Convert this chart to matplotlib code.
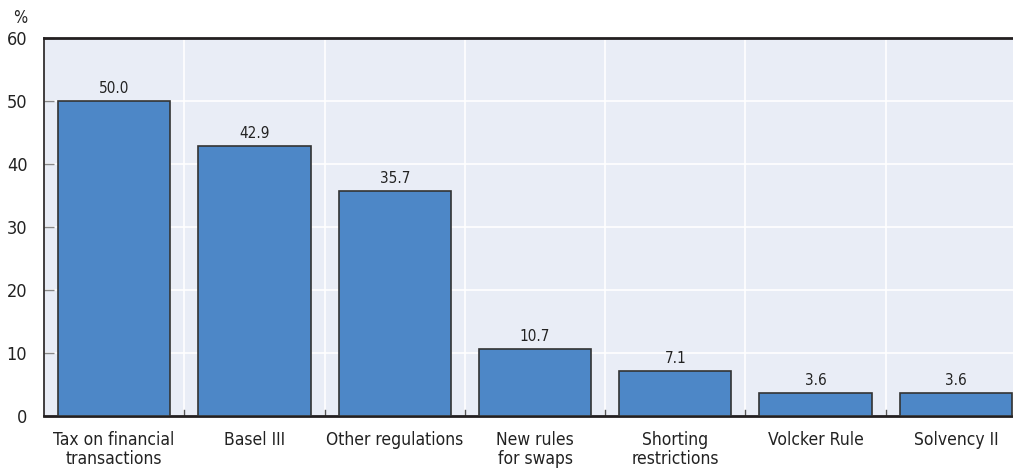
import numpy as np
import matplotlib
matplotlib.use('Agg')
import matplotlib.pyplot as plt

categories = ['Tax on financial\ntransactions', 'Basel III', 'Other regulations',
              'New rules\nfor swaps', 'Shorting\nrestrictions', 'Volcker Rule', 'Solvency II']
values = [50.0, 42.9, 35.7, 10.7, 7.1, 3.6, 3.6]
yticks = [0, 10, 20, 30, 40, 50, 60]

plt.rcParams['font.family'] = ['DejaVu Sans']
plt.rcParams['font.stretch'] = 'condensed'

W, H = 1013, 469
fig = plt.figure(figsize=(W / 100, H / 100), dpi=100)
# axes spans slightly past the right edge, like the original
ax = fig.add_axes([44 / W, (H - 416) / H, (1026 - 44) / W, 378 / H])
ax.set_facecolor('#E9EDF6')

x = np.arange(len(categories))
bars = ax.bar(x, values, width=0.8, color='#4D87C7', edgecolor='#333333', linewidth=1.2, zorder=3)
for xi, v in zip(x, values):
    ax.text(xi, v + 0.8, f'{v:.1f}', ha='center', va='bottom', fontsize=11, color='#222222', zorder=4)

ax.set_xlim(-0.5, len(categories) - 0.5)
ax.set_ylim(0, 60)
ax.set_yticks(yticks)
ax.set_yticklabels([str(t) for t in yticks], fontsize=13, color='#222222')
ax.set_xticks(x)
ax.set_xticklabels(categories, fontsize=12.5, color='#222222', linespacing=1.05)
ax.tick_params(axis='x', length=0, pad=11)
ax.tick_params(axis='y', direction='in', length=7, color='#888888', width=1, pad=12)

# white grid: horizontal at ticks, vertical between categories
for t in yticks[1:-1]:
    ax.axhline(t, color='white', lw=1.2, zorder=1)
for b in x[:-1] + 0.5:
    ax.axvline(b, color='white', lw=1.2, zorder=1)
    ax.plot([b, b], [0, 1.0], color='#555555', lw=1, zorder=2)

ax.spines['right'].set_visible(False)
for s in ['top', 'bottom', 'left']:
    ax.spines[s].set_color('#231F20')
    ax.spines[s].set_linewidth(2)
ax.spines['left'].set_linewidth(1.2)

fig.text(20 / W, 1 - 18 / H, '%', fontsize=12, color='#222222', ha='center', va='center')

fig.savefig('out.png', dpi=100)
